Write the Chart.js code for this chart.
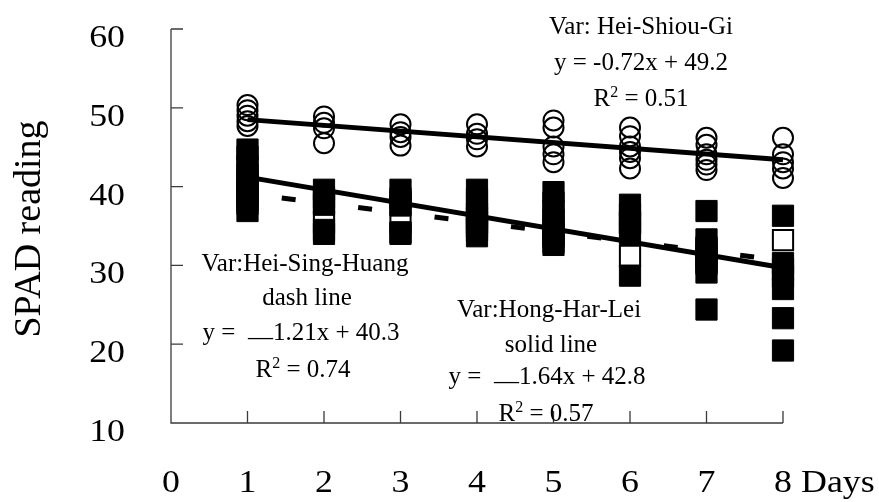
<!DOCTYPE html>
<html><head><meta charset="utf-8">
<script src="https://cdn.jsdelivr.net/npm/chart.js@4"></script>
<style>html,body{margin:0;padding:0;background:#fff}#wrap{width:879px;height:502px;position:relative}</style>
</head><body><div id="wrap"><canvas id="c" width="879" height="502"></canvas></div>
<script>
// ---- data ----
const days = [1, 2, 3, 4, 5, 6, 7, 8];
const xTickLabels = ['0', '1', '2', '3', '4', '5', '6', '7', '8'];
const yTickLabels = [10, 20, 30, 40, 50, 60];

// Var: Hei-Shiou-Gi (open circles), one list per day
const heiShiouGi = [
  [50.35, 49.7, 49.0, 48.3, 47.7],
  [48.9, 48.1, 47.4, 45.5],
  [47.9, 46.9, 46.3, 45.2],
  [47.9, 46.7, 46.0, 45.1],
  [48.4, 47.5, 45.1, 44.1, 43.1],
  [47.5, 46.4, 45.1, 44.4, 43.6, 42.3],
  [46.2, 45.3, 44.1, 43.4, 42.8, 42.1],
  [46.2, 44.1, 43.1, 42.3, 41.1]
];
// Var: Hong-Har-Lei (solid squares)
const hongHarLei = [
  [44.7, 43.8, 42.6, 41.5, 40.6, 39.8, 38.8, 37.8, 36.9],
  [39.6, 38.6, 37.7, 34.5, 34.0],
  [39.6, 38.5, 37.6, 34.2, 34.0],
  [39.6, 38.4, 37.0, 36.0, 34.9, 33.7],
  [39.3, 38.0, 36.9, 35.8, 34.6, 33.6, 32.6],
  [37.7, 36.5, 35.3, 34.0, 28.7],
  [36.9, 33.3, 32.3, 31.3, 30.2, 29.1, 24.4],
  [36.3, 30.3, 28.6, 27.0, 23.3, 19.2]
];
// Var: Hei-Sing-Huang (open squares)
const heiSingHuang = [
  [41.0, 39.5, 38.3],
  [38.0, 35.5],
  [38.0, 35.4],
  [36.5, 35.5, 34.5],
  [35.5, 34.0, 33.0],
  [35.5, 31.2],
  [32.0, 30.5],
  [33.2, 29.5]
];
// fitted trend lines, end points at day 1 and day 8
const trendDays = [1, 8];
const trendHeiShiouGi = [48.5, 43.4];
const trendHeiSingHuang = [39.1, 30.6];
const trendHongHarLei = [41.2, 29.7];

// ---- build ----
const pts = (series) => days.flatMap((d, i) => series[i].map(v => ({x: d, y: v})));
const line = (vals) => trendDays.map((d, i) => ({x: d, y: vals[i]}));

const SERIF = '"Liberation Serif", "Times New Roman", serif';

function stretched(ctx, txt, x, y, align, sx, size) {
  ctx.save();
  ctx.font = size + 'px ' + SERIF;
  ctx.translate(x, y);
  ctx.scale(sx, 1);
  ctx.textAlign = align;
  ctx.textBaseline = 'alphabetic';
  ctx.fillText(txt, 0, 0);
  ctx.restore();
}
function rich(ctx, segs, cx, base) {
  ctx.save();
  ctx.textAlign = 'left';
  ctx.textBaseline = 'alphabetic';
  let w = 0;
  segs.forEach(s => { ctx.font = (s.size || 25) + 'px ' + SERIF; s.w = ctx.measureText(s.t).width; w += s.w; });
  let x = cx - w / 2;
  segs.forEach(s => { ctx.font = (s.size || 25) + 'px ' + SERIF; ctx.fillText(s.t, x, base + (s.dy || 0)); x += s.w; });
  ctx.restore();
}

const deco = {
  id: 'deco',
  beforeDatasetsDraw(chart) {
    const {ctx, scales: {x, y}} = chart;
    const x0 = x.getPixelForValue(0), xEnd = x.getPixelForValue(8);
    const yTop = y.getPixelForValue(60), yBot = y.getPixelForValue(10);
    ctx.save();
    ctx.strokeStyle = '#3a3a3a';
    ctx.lineWidth = 1.3;
    ctx.beginPath();
    ctx.moveTo(x0, yTop); ctx.lineTo(x0, yBot); ctx.lineTo(xEnd, yBot);
    yTickLabels.forEach(v => { if (v === 10) return; const p = y.getPixelForValue(v); ctx.moveTo(x0, p); ctx.lineTo(x0 + 12, p); });
    xTickLabels.forEach(l => { const v = +l; if (v === 0) return; const p = x.getPixelForValue(v); ctx.moveTo(p, yBot); ctx.lineTo(p, yBot - 12); });
    ctx.stroke();
    ctx.restore();
  },
  afterDatasetsDraw(chart) {
    const {ctx, scales: {x, y}} = chart;
    ctx.save();
    ctx.fillStyle = '#000';
    // axis tick labels
    yTickLabels.forEach(v => stretched(ctx, String(v), 125, y.getPixelForValue(v) + 18, 'right', 1.12, 32));
    xTickLabels.forEach(l => stretched(ctx, l, x.getPixelForValue(+l), 492, 'center', 1.12, 32));
    stretched(ctx, 'Days', 801, 492, 'left', 1.12, 32);
    // y title
    ctx.save();
    ctx.translate(40, 229);
    ctx.rotate(-Math.PI / 2);
    ctx.font = '38px ' + SERIF;
    ctx.textAlign = 'center';
    ctx.textBaseline = 'alphabetic';
    ctx.fillText('SPAD reading', 0, 0);
    ctx.restore();
    // annotations
    rich(ctx, [{t: 'Var: Hei-Shiou-Gi'}], 641, 34);
    rich(ctx, [{t: 'y = -0.72x + 49.2'}], 641, 70);
    rich(ctx, [{t: 'R'}, {t: '2', size: 16, dy: -9}, {t: ' = 0.51'}], 641, 106);

    rich(ctx, [{t: 'Var:Hei-Sing-Huang'}], 305, 271);
    rich(ctx, [{t: 'dash line'}], 307, 305);
    rich(ctx, [{t: 'y =  '}, {t: '\u2014', dy: 5}, {t: '1.21x + 40.3'}], 301, 340);
    rich(ctx, [{t: 'R'}, {t: '2', size: 16, dy: -9}, {t: ' = 0.74'}], 303, 377);

    rich(ctx, [{t: 'Var:Hong-Har-Lei'}], 549, 317);
    rich(ctx, [{t: 'solid line'}], 551, 352);
    rich(ctx, [{t: 'y =  '}, {t: '\u2014', dy: 5}, {t: '1.64x + 42.8'}], 547, 384);
    rich(ctx, [{t: 'R'}, {t: '2', size: 16, dy: -9}, {t: ' = 0.57'}], 546, 421);
    ctx.restore();
  }
};

new Chart(document.getElementById('c'), {
  type: 'scatter',
  data: {
    datasets: [
      {label: 'Hei-Shiou-Gi trend', data: line(trendHeiShiouGi), showLine: true, borderColor: '#000', borderWidth: 5, pointRadius: 0, clip: false},
      {label: 'Hong-Har-Lei trend', data: line(trendHongHarLei), showLine: true, borderColor: '#000', borderWidth: 5, pointRadius: 0, clip: false},
      {label: 'Var: Hei-Shiou-Gi', data: pts(heiShiouGi), pointStyle: 'circle', pointRadius: 10, pointBorderWidth: 2, pointBorderColor: '#000', pointBackgroundColor: 'rgba(255,255,255,0)', clip: false},
      {label: 'Var:Hong-Har-Lei', data: pts(hongHarLei), pointStyle: 'rect', pointRadius: 15, pointBorderWidth: 1, pointBorderColor: '#000', pointBackgroundColor: '#000', clip: false},
      {label: 'Var:Hei-Sing-Huang', data: pts(heiSingHuang), pointStyle: 'rect', pointRadius: 14.3, pointBorderWidth: 2, pointBorderColor: '#000', pointBackgroundColor: '#fff', clip: false},
      {label: 'Hei-Sing-Huang trend', data: line(trendHeiSingHuang), showLine: true, borderColor: '#000', borderWidth: 5, borderDash: [14, 63], borderDashOffset: 42.5, pointRadius: 0, clip: false}
    ]
  },
  options: {
    responsive: false,
    animation: false,
    events: [],
    layout: {padding: {left: 171, right: 96, top: 29, bottom: 79}},
    plugins: {legend: {display: false}, tooltip: {enabled: false}},
    scales: {
      x: {type: 'linear', min: 0, max: 8, display: false},
      y: {type: 'linear', min: 10, max: 60, display: false}
    }
  },
  plugins: [deco]
});
</script></body></html>
